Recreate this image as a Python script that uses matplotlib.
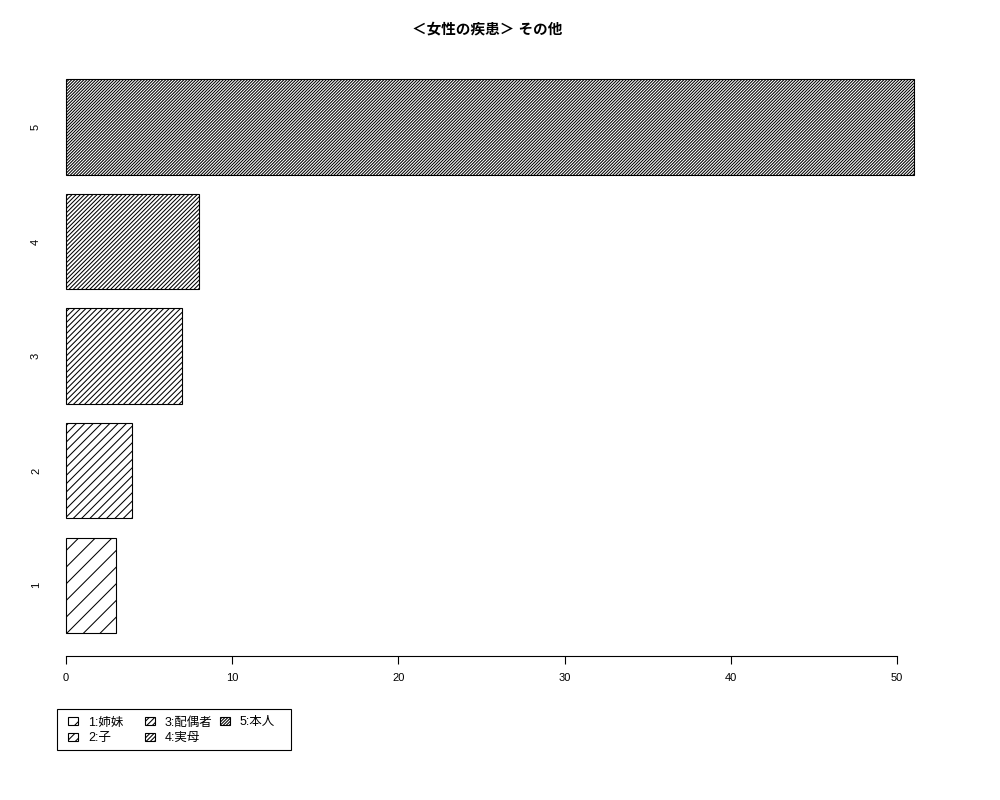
import matplotlib.pyplot as plt
import matplotlib.transforms as mtransforms
from matplotlib.patches import Rectangle
import numpy as np

plt.rcParams['font.family'] = ['Liberation Sans', 'Noto Sans CJK JP']
plt.rcParams['hatch.linewidth'] = 0.75
plt.rcParams['hatch.color'] = 'black'

# data
categories = ['1', '2', '3', '4', '5']
values = [3, 4, 7, 8, 51]
legend_labels = ['1:姉妹', '2:子', '3:配偶者', '4:実母', '5:本人']
hatches = ['//', '////', '//////', '////////', '///////////']
title = '＜女性の疾患＞ その他'

fig = plt.figure(figsize=(10, 8), dpi=100)
ax = fig.add_axes([0.0321, 0.18, 0.9154, 0.7496])

# R style bar positions: width 1, space 0.2
pos = 0.7 + 1.2 * np.arange(len(values))
bars = ax.barh(pos, values, height=1.0, color='white', edgecolor='black',
               linewidth=0.8)
for b, h, lab in zip(bars, hatches, legend_labels):
    b.set_hatch(h)
    b.set_label(lab)

ax.set_xlim(-2.04, 53.04)
ax.set_ylim(-0.04, 6.24)

for s in ['top', 'right', 'left']:
    ax.spines[s].set_visible(False)
ax.spines['bottom'].set_bounds(0, 50)
ax.spines['bottom'].set_linewidth(0.8)
ax.set_xticks([0, 10, 20, 30, 40, 50])
ax.tick_params(axis='x', length=6, width=0.8, labelsize=8, pad=6)
ax.set_yticks([])

trans = mtransforms.blended_transform_factory(fig.transFigure, ax.transData)
for p, c in zip(pos, categories):
    ax.text(0.036, p, c, transform=trans, rotation=90, ha='center',
            va='center', fontsize=8)

fig.text(0.487, 1 - 29 / 800, title, ha='center', va='center',
         fontsize=10.5, fontweight='bold')

# legend: R style fixed-width columns, drawn one column at a time
frame = Rectangle((57 / 1000, 1 - 750 / 800), 234 / 1000, 41 / 800,
                  transform=fig.transFigure, facecolor='white',
                  edgecolor='black', linewidth=0.8)
fig.patches.append(frame)

columns = [[0, 1], [2, 3], [4]]
col_x = [68, 145, 220]
for idx, x in zip(columns, col_x):
    fig.legend(handles=[bars[i] for i in idx], loc='upper left',
               bbox_to_anchor=(x / 1000, 1 - 716.5 / 800),
               bbox_transform=fig.transFigure, borderaxespad=0,
               borderpad=0, frameon=False, fontsize=9,
               handlelength=0.8, handleheight=0.65, handletextpad=0.8,
               labelspacing=0.3)

fig.savefig('out.png', dpi=100)
